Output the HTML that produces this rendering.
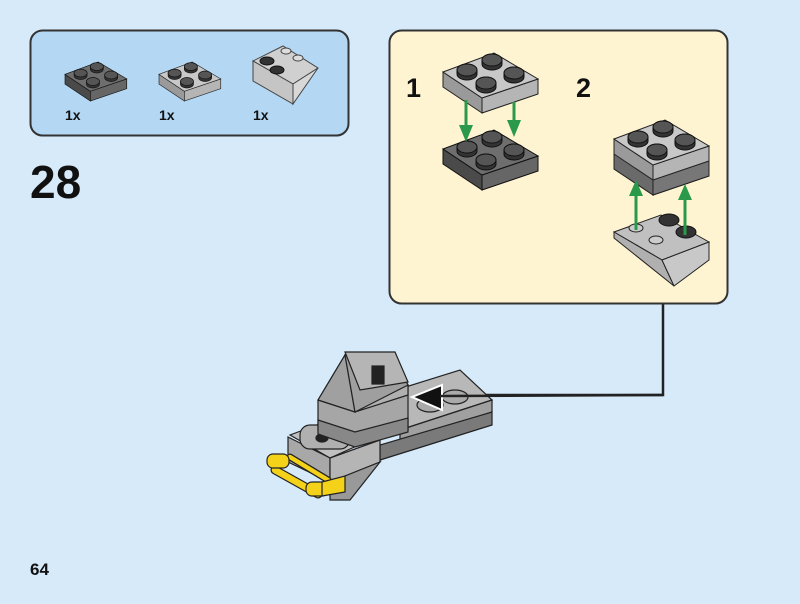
<!DOCTYPE html>
<html><head><meta charset="utf-8"><style>
html,body{margin:0;padding:0;background:#d6eafa;}
svg{display:block}
text{font-family:"Liberation Sans",sans-serif;font-weight:bold;fill:#111}
</style></head><body>
<svg width="800" height="604" viewBox="0 0 800 604" xmlns="http://www.w3.org/2000/svg">
<defs>
<g id="studsD">
 <g stroke="#111" stroke-width="1">
 <path d="M14,21 v-4 a10,6 0 0 1 20,0 v4 a10,6 0 0 1 -20,0z" fill="#333"/><ellipse cx="24" cy="17" rx="10" ry="6" fill="#555"/>
 <path d="M39,11 v-4 a10,6 0 0 1 20,0 v4 a10,6 0 0 1 -20,0z" fill="#333"/><ellipse cx="49" cy="7" rx="10" ry="6" fill="#555"/>
 <path d="M61,24 v-4 a10,6 0 0 1 20,0 v4 a10,6 0 0 1 -20,0z" fill="#333"/><ellipse cx="71" cy="20" rx="10" ry="6" fill="#555"/>
 <path d="M33,34 v-4 a10,6 0 0 1 20,0 v4 a10,6 0 0 1 -20,0z" fill="#333"/><ellipse cx="43" cy="30" rx="10" ry="6" fill="#555"/>
 </g>
</g>
<g id="plateL">
 <polygon points="0,19 39,45 39,60 0,34" fill="#9a9a9a" stroke="#222"/>
 <polygon points="39,45 95,26 95,41 39,60" fill="#b5b5b5" stroke="#222"/>
 <polygon points="0,19 51,0 95,26 39,45" fill="#c8c8c8" stroke="#222"/>
 <use href="#studsD"/>
</g>
<g id="plateD">
 <polygon points="0,19 39,45 39,60 0,34" fill="#4a4a4a" stroke="#111"/>
 <polygon points="39,45 95,26 95,41 39,60" fill="#666" stroke="#111"/>
 <polygon points="0,19 51,0 95,26 39,45" fill="#6e6e6e" stroke="#111"/>
 <use href="#studsD"/>
</g>
</defs>

<rect x="30.5" y="30.5" width="318" height="105" rx="12" fill="#b4d8f4" stroke="#333" stroke-width="2"/>
<use href="#plateD" transform="translate(65,62) scale(0.65)"/>
<use href="#plateL" transform="translate(159,62) scale(0.65)"/>
<g transform="translate(253,46)">
 <polygon points="0,15 30,0 65,22 40,38" fill="#d0d0d0" stroke="#444"/>
 <polygon points="0,15 40,38 40,58 0,35" fill="#c5c5c5" stroke="#444"/>
 <polygon points="40,38 65,22 40,58" fill="#d8d8d8" stroke="#444"/>
 <ellipse cx="14" cy="15" rx="7" ry="4" fill="#333" stroke="#111"/>
 <ellipse cx="24" cy="24" rx="7" ry="4" fill="#333" stroke="#111"/>
 <ellipse cx="33" cy="5" rx="5" ry="3" fill="#ddd" stroke="#444"/>
 <ellipse cx="45" cy="12" rx="5" ry="3" fill="#ddd" stroke="#444"/>
</g>
<text x="65" y="120" font-size="14">1x</text>
<text x="159" y="120" font-size="14">1x</text>
<text x="253" y="120" font-size="14">1x</text>

<text x="30" y="198" font-size="46">28</text>

<path d="M663,304 V395 H445" fill="none" stroke="#222" stroke-width="2.5"/>
<rect x="389.5" y="30.5" width="338" height="273" rx="12" fill="#fff4d2" stroke="#333" stroke-width="2"/>
<text x="406" y="97" font-size="27">1</text>
<text x="576" y="97" font-size="27">2</text>

<use href="#plateD" transform="translate(443,130)"/>
<use href="#plateL" transform="translate(443,53)"/>
<g stroke="#2a9a4a" stroke-width="3" fill="#2a9a4a">
 <line x1="466" y1="100" x2="466" y2="130"/><polygon points="459,125 473,125 466,142" stroke="none"/>
 <line x1="514" y1="102" x2="514" y2="124"/><polygon points="507,120 521,120 514,137" stroke="none"/>
</g>

<g transform="translate(614,120)">
 <polygon points="0,19 39,45 39,75 0,49" fill="#9a9a9a" stroke="#222"/>
 <polygon points="39,45 95,26 95,56 39,75" fill="#b5b5b5" stroke="#222"/>
 <polygon points="0,34 39,60 39,75 0,49" fill="#6a6a6a" stroke="#222"/>
 <polygon points="39,60 95,41 95,56 39,75" fill="#777" stroke="#222"/>
 <polygon points="0,19 51,0 95,26 39,45" fill="#c8c8c8" stroke="#222"/>
 <use href="#studsD"/>
</g>
<g transform="translate(614,210)">
 <polygon points="0,22 47,5 95,32 48,50" fill="#c0c0c0" stroke="#222"/>
 <polygon points="0,22 48,50 60,76 0,28" fill="#b0b0b0" stroke="#222"/>
 <polygon points="48,50 95,32 95,50 60,76" fill="#c8c8c8" stroke="#222"/>
 <ellipse cx="22" cy="18" rx="7" ry="4" fill="#ccc" stroke="#222"/>
 <ellipse cx="42" cy="30" rx="7" ry="4" fill="#ccc" stroke="#222"/>
 <ellipse cx="55" cy="10" rx="10" ry="6" fill="#333" stroke="#111"/>
 <ellipse cx="72" cy="22" rx="10" ry="6" fill="#333" stroke="#111"/>
</g>
<g stroke="#2a9a4a" stroke-width="3" fill="#2a9a4a">
 <line x1="636" y1="230" x2="636" y2="192"/><polygon points="629,196 643,196 636,180" stroke="none"/>
 <line x1="685" y1="235" x2="685" y2="196"/><polygon points="678,200 692,200 685,184" stroke="none"/>
</g>

<g stroke="#222" stroke-width="1.2">
 <polygon points="380,395 460,370 492,400 400,430" fill="#b8b8b8"/>
 <polygon points="400,430 492,400 492,412 400,442" fill="#a0a0a0"/>
 <polygon points="380,445 492,412 492,425 380,460" fill="#7a7a7a"/>
 <ellipse cx="430" cy="405" rx="13" ry="7" fill="#aaa"/>
 <ellipse cx="455" cy="397" rx="13" ry="7" fill="#aaa"/>
 <polygon points="290,435 330,420 370,440 330,458" fill="#c0c0c0"/>
 <polygon points="288,437 330,458 330,482 288,462" fill="#a8a8a8"/>
 <polygon points="330,458 380,440 380,462 330,482" fill="#b5b5b5"/>
 <polygon points="330,482 380,462 350,500 330,500" fill="#999"/>
 <rect x="300" y="425" width="50" height="24" rx="10" fill="#b0b0b0"/>
 <ellipse cx="322" cy="438" rx="6" ry="4" fill="#222"/>
 <polygon points="318,400 345,355 395,362 408,385 408,430 355,445 318,430" fill="#a6a6a6"/>
 <polygon points="318,400 355,412 408,395 408,385" fill="#b0b0b0"/>
 <polygon points="318,400 345,355 355,412" fill="#a0a0a0"/>
 <polygon points="345,355 395,362 408,385 355,412" fill="#9f9f9f"/>
 <polygon points="345,352 395,352 408,382 360,390" fill="#b5b5b5"/>
 <polygon points="318,420 355,432 408,418 408,432 355,447 318,434" fill="#888"/>
 <rect x="372" y="366" width="12" height="18" fill="#222"/>
 <!-- yellow handle -->
 <path d="M275,470 L318,494" stroke="#222" stroke-width="9" stroke-linecap="round"/>
 <path d="M275,470 L318,494" stroke="#f5d21a" stroke-width="6.5" stroke-linecap="round"/>
 <path d="M290,457 L328,480" stroke="#222" stroke-width="7" stroke-linecap="round"/>
 <path d="M290,457 L328,480" stroke="#f5d21a" stroke-width="4.5" stroke-linecap="round"/>
 <rect x="267" y="454" width="22" height="14" rx="6" fill="#f5d21a"/>
 <rect x="306" y="482" width="22" height="14" rx="6" fill="#f5d21a"/>
 <polygon points="322,482 345,476 345,492 322,496" fill="#f5d21a"/>
</g>
<polygon points="412,397 442,385 442,410" fill="#111" stroke="#fff" stroke-width="2"/>
<line x1="440" y1="396" x2="663" y2="395" stroke="#222" stroke-width="2.5"/>

<text x="30" y="575" font-size="17">64</text>
</svg>
</body></html>
